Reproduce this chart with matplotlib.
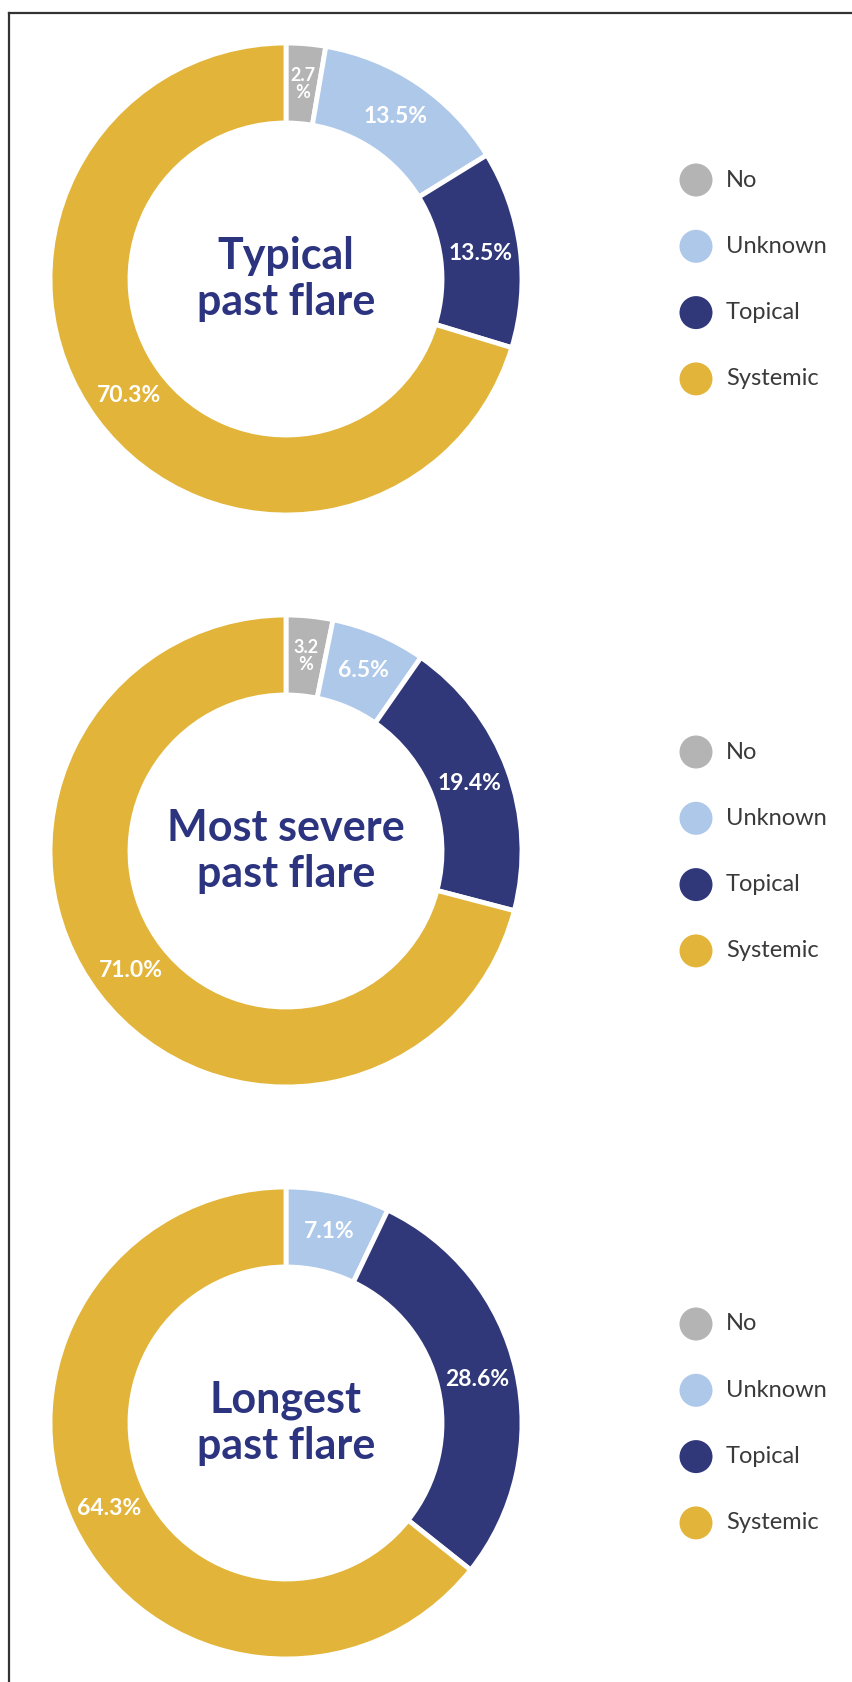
import matplotlib
matplotlib.use('Agg')
import matplotlib.pyplot as plt
from matplotlib.patches import Circle
import numpy as np

# ---- data ----
categories = ['No', 'Unknown', 'Topical', 'Systemic']
colors = ['#b4b4b4', '#aec8ea', '#30387a', '#e2b53a']
titles = ['Typical\npast flare', 'Most severe\npast flare', 'Longest\npast flare']
typical = [2.7, 13.5, 13.5, 70.3]
most_severe = [3.2, 6.5, 19.4, 71.0]
longest = [0.0, 7.1, 28.6, 64.3]
series = [typical, most_severe, longest]

W_PX, H_PX = 853, 1682
plt.rcParams['font.family'] = ['Lato', 'DejaVu Sans']

fig = plt.figure(figsize=(W_PX / 100, H_PX / 100), dpi=100)
ax = fig.add_axes([0, 0, 1, 1])

centers_y = [279, 851, 1423]
cx = 286
R_OUT = 236
R_IN = 156
title_color = '#2c3480'

for vals, title, cyp in zip(series, titles, centers_y):
    cy = H_PX - cyp
    ax.pie(vals, colors=colors, startangle=90, counterclock=False,
           radius=R_OUT, center=(cx, cy),
           wedgeprops=dict(width=R_OUT - R_IN, edgecolor='white', linewidth=3.5))
    # labels
    cum = 0.0
    for v in vals:
        if v > 0:
            mid = np.deg2rad(90 - 360 * (cum + v / 2) / 100)
            r_lab = (R_OUT + R_IN) / 2
            x = cx + r_lab * np.cos(mid)
            y = cy + r_lab * np.sin(mid)
            if v < 5:
                txt = f'{v:.1f}\n%'
                ax.text(x, y, txt, ha='center', va='center', color='white',
                        fontsize=13, fontweight='bold', linespacing=1.0)
            else:
                ax.text(x, y, f'{v:.1f}%', ha='center', va='center', color='white',
                        fontsize=16.5, fontweight='bold')
        cum += v
    # centre title
    ax.text(cx, cy, title, ha='center', va='center', color=title_color,
            fontsize=31, fontweight='bold', linespacing=1.16)
    # legend
    for i, (cat, col) in enumerate(zip(categories, colors)):
        ly = cy + 99 - i * 66.3
        ax.add_patch(Circle((696, ly), 16.5, facecolor=col, edgecolor='none'))
        ax.text(726, ly, cat, ha='left', va='center', color='#3a3a3a', fontsize=17)

# frame lines
ax.plot([9, W_PX], [H_PX - 12.5, H_PX - 12.5], color='#333333', lw=1.6, clip_on=False)
ax.plot([9, 9], [0, H_PX - 12.5], color='#333333', lw=1.6, clip_on=False)

ax.set_xlim(0, W_PX)
ax.set_ylim(0, H_PX)
ax.set_aspect('equal')
ax.axis('off')

fig.savefig('out.png', dpi=100, facecolor='white')
